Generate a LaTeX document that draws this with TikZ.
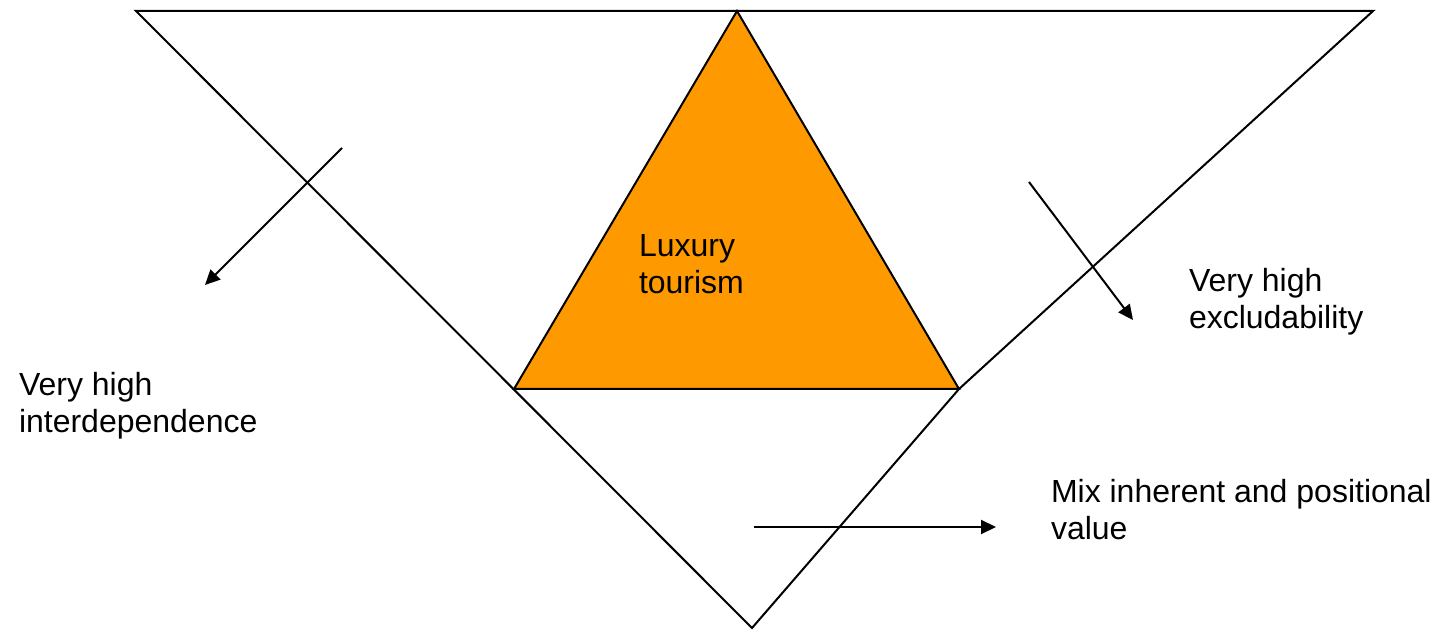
\documentclass[tikz,border=0pt]{standalone}
\usepackage{fontspec}
\setmainfont{Liberation Sans}
\usetikzlibrary{arrows.meta}
\definecolor{luxorange}{RGB}{255,153,0}
\begin{document}
\begin{tikzpicture}
    [x=0.5pt, y=-0.5pt, line width=1pt,
    % every node/.style={draw, inner sep=2pt},
    label text/.style={anchor=base west, inner sep=0pt, align=left,
        font=\fontsize{16pt}{18.5pt}\selectfont},
    push arrow/.style={draw=black, -{Triangle[length=7.5pt, width=7pt]}}]
    \useasboundingbox (0,0) rectangle (1434,630);
    \coordinate (topL) at (136,11);
    \coordinate (topR) at (1373,11);
    \coordinate (kink) at (959,389);
    \coordinate (bottom) at (752,628);
    \coordinate (apex) at (737,11);
    \coordinate (baseL) at (514,389);
    \draw (topL) -- (topR) -- (kink) -- (bottom) -- cycle;
    \draw [fill=luxorange] (apex) -- (baseL) -- (kink) -- cycle;
    % base anchor sits on the last line
    \node [label text] (luxury) at (638,294) {Luxury\\tourism};
    \node [label text] (excl) at (1188,329) {Very high\\excludability};
    \node [label text] (interdep) at (18,432) {Very high\\interdependence};
    \node [label text] (mix) at (1050,539) {Mix inherent and positional\\value};
    \coordinate (interdepFrom) at (342,148);
    \coordinate (interdepTo) at (205,285);
    \coordinate (exclFrom) at (1029,182);
    \coordinate (exclTo) at (1133,320);
    \coordinate (mixFrom) at (754,527);
    \coordinate (mixTo) at (996,527);
    \draw [push arrow] (interdepFrom) -- (interdepTo);
    \draw [push arrow] (exclFrom) -- (exclTo);
    \draw [push arrow] (mixFrom) -- (mixTo);
\end{tikzpicture}
\end{document}
